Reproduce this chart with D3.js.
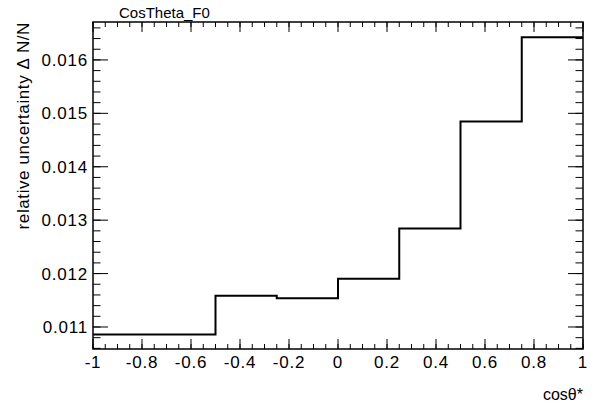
<!DOCTYPE html>
<html>
<head>
<meta charset="utf-8">
<script src="https://cdn.jsdelivr.net/npm/d3@7"></script>
<style>
  body { margin: 0; background: #fff; }
  text { font-family: "Liberation Sans", Arial, sans-serif; fill: #000; }
</style>
</head>
<body>
<div id="chart"></div>
<script>
var svgWidth = 599;
var svgHeight = 412;

var margin = { top: 22, right: 16, bottom: 63, left: 93 };

var chartWidth = svgWidth - margin.left - margin.right;
var chartHeight = svgHeight - margin.top - margin.bottom;

// bin edges and content
var binEdges = [-1, -0.5, -0.25, 0, 0.25, 0.5, 0.75, 1];
var binValues = [0.01086, 0.011586, 0.011536, 0.011904, 0.012846, 0.014845, 0.016425];

var xTicks = [-1, -0.8, -0.6, -0.4, -0.2, 0, 0.2, 0.4, 0.6, 0.8, 1];
var xTickLabels = ["-1", "-0.8", "-0.6", "-0.4", "-0.2", "0", "0.2", "0.4", "0.6", "0.8", "1"];
var yTicks = [0.011, 0.012, 0.013, 0.014, 0.015, 0.016];
var yTickLabels = ["0.011", "0.012", "0.013", "0.014", "0.015", "0.016"];

var svg = d3.select("#chart")
    .append("svg")
    .attr("width", svgWidth)
    .attr("height", svgHeight);

var chartGroup = svg.append("g")
    .attr("transform", `translate(${margin.left},${margin.top})`);

var xScale = d3.scaleLinear()
    .domain([-1, 1])
    .range([0, chartWidth]);

var yScale = d3.scaleLinear()
    .domain([0.010588, 0.01671])
    .range([chartHeight, 0]);

// minor ticks
var xMinor = d3.range(-1, 1.0001, 0.05);
var yMinor = d3.range(0.0106, 0.01671, 0.0002);

function drawTicks(vals, len, isX) {
    vals.forEach(function(v) {
        if (isX) {
            var x = xScale(v);
            chartGroup.append("line").attr("x1", x).attr("x2", x)
                .attr("y1", chartHeight).attr("y2", chartHeight - len)
                .attr("stroke", "#000").attr("stroke-width", 1);
            chartGroup.append("line").attr("x1", x).attr("x2", x)
                .attr("y1", 0).attr("y2", len)
                .attr("stroke", "#000").attr("stroke-width", 1);
        } else {
            var y = yScale(v);
            chartGroup.append("line").attr("x1", 0).attr("x2", len)
                .attr("y1", y).attr("y2", y)
                .attr("stroke", "#000").attr("stroke-width", 1);
            chartGroup.append("line").attr("x1", chartWidth).attr("x2", chartWidth - len)
                .attr("y1", y).attr("y2", y)
                .attr("stroke", "#000").attr("stroke-width", 1);
        }
    });
}

drawTicks(xMinor, 5, true);
drawTicks(xTicks, 10, true);
drawTicks(yMinor, 7.5, false);
drawTicks(yTicks, 15, false);

// frame
chartGroup.append("rect")
    .attr("x", 0).attr("y", 0)
    .attr("width", chartWidth).attr("height", chartHeight)
    .attr("fill", "none")
    .attr("stroke", "#000")
    .attr("stroke-width", 1.5);

// tick labels
chartGroup.selectAll(".xlab")
    .data(xTicks)
    .enter()
    .append("text")
    .attr("x", d => xScale(d))
    .attr("y", chartHeight + 19)
    .attr("text-anchor", "middle")
    .style("font-size", "17px")
    .style("letter-spacing", "0.8px")
    .text((d, i) => xTickLabels[i]);

chartGroup.selectAll(".ylab")
    .data(yTicks)
    .enter()
    .append("text")
    .attr("x", -5)
    .attr("y", d => yScale(d) + 6)
    .attr("text-anchor", "end")
    .style("font-size", "17px")
    .style("letter-spacing", "0.8px")
    .text((d, i) => yTickLabels[i]);

// histogram step line
var steps = [];
binValues.forEach(function(v, i) {
    steps.push([binEdges[i], v]);
    steps.push([binEdges[i + 1], v]);
});

var line = d3.line()
    .x(d => xScale(d[0]))
    .y(d => yScale(d[1]));

chartGroup.append("path")
    .datum(steps)
    .attr("d", line)
    .attr("fill", "none")
    .attr("stroke", "#000")
    .attr("stroke-width", 2);

// labels
svg.append("text")
    .attr("x", 119)
    .attr("y", 17.5)
    .style("font-size", "15px")
    .text("CosTheta_F0");

svg.append("text")
    .attr("transform", `translate(29, ${margin.top}) rotate(-90)`)
    .attr("text-anchor", "end")
    .style("font-size", "17px")
    .style("letter-spacing", "0.6px")
    .text("relative uncertainty \u0394 N/N");

svg.append("text")
    .attr("x", margin.left + chartWidth)
    .attr("y", 400)
    .attr("text-anchor", "end")
    .style("font-size", "16px")
    .text("cos\u03b8*");
</script>
</body>
</html>
